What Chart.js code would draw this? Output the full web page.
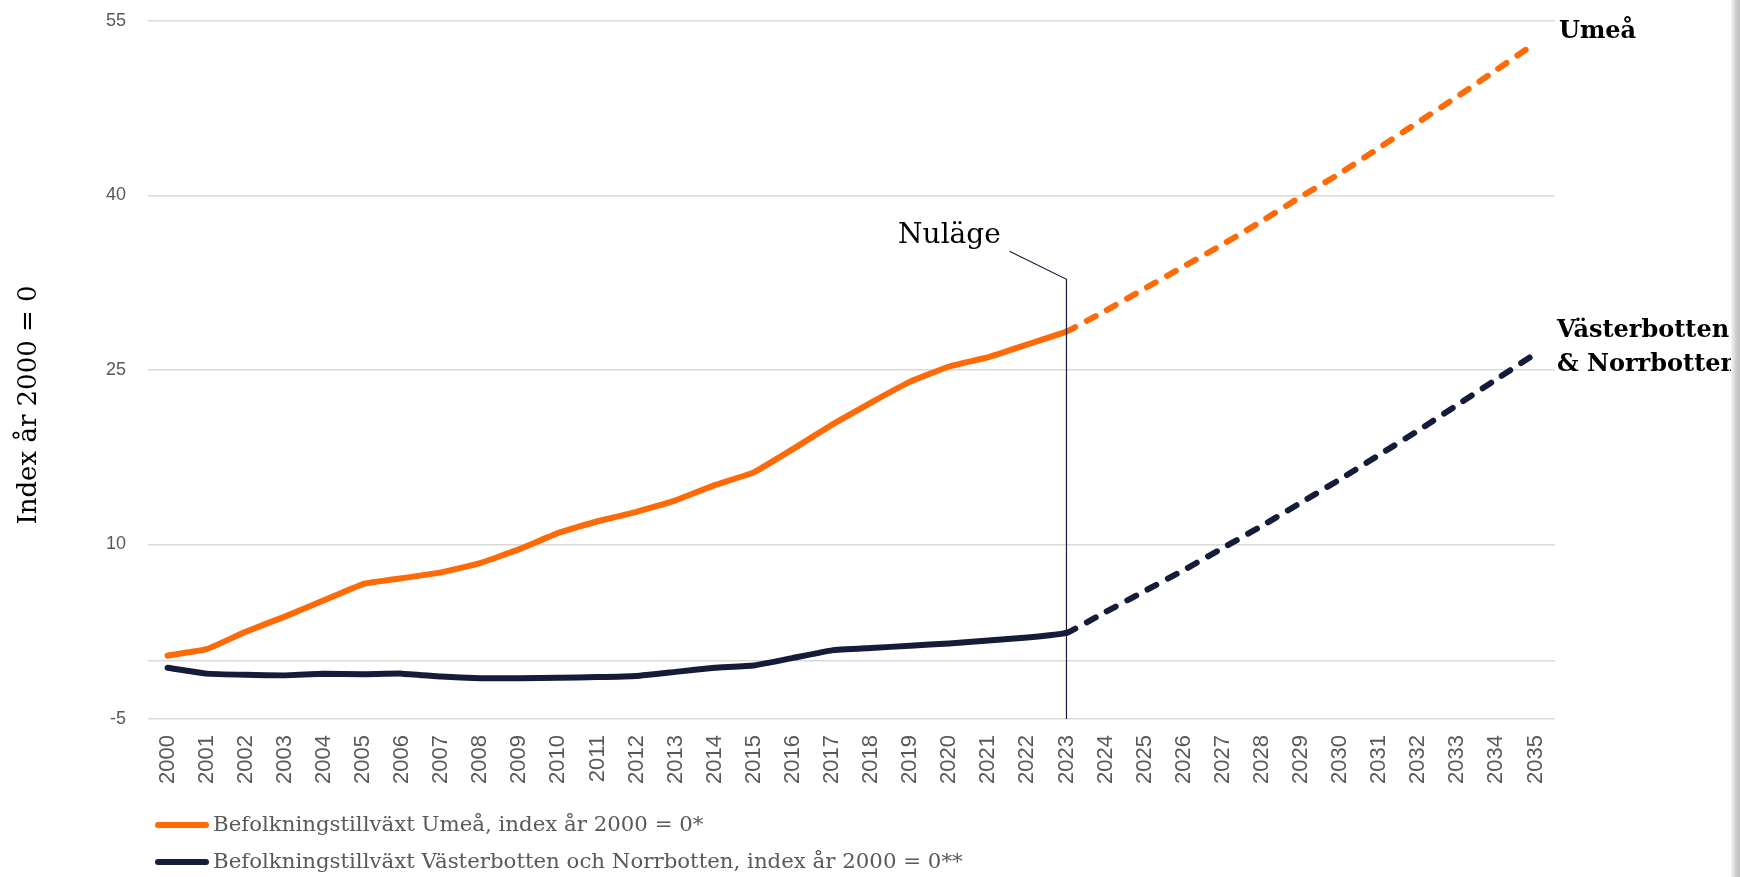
<!DOCTYPE html>
<html>
<head>
<meta charset="utf-8">
<script src="https://cdn.jsdelivr.net/npm/chart.js@4.4.1/dist/chart.umd.min.js"></script>
<style>
html,body{margin:0;padding:0;background:#fff;overflow:hidden}
#wrap{position:relative;width:1740px;height:877px}
#shade{position:absolute;left:1731px;top:0;width:9px;height:877px;background:linear-gradient(to right,#f6f6f6,#cfcfcf 55%,#bdbdbd)}
</style>
</head>
<body>
<div id="wrap"><canvas id="c" width="1740" height="877"></canvas><div id="shade"></div></div>
<script>
const years = ['2000','2001','2002','2003','2004','2005','2006','2007','2008','2009','2010','2011','2012','2013','2014','2015','2016','2017','2018','2019','2020','2021','2022','2023','2024','2025','2026','2027','2028','2029','2030','2031','2032','2033','2034','2035'];
const umea = [0.45,1.0,2.5,3.8,5.2,6.6,7.1,7.6,8.4,9.6,11.0,12.0,12.8,13.8,15.1,16.2,18.2,20.3,22.2,24.0,25.3,26.1,27.2,28.3,30.1,32.0,33.9,35.8,37.8,39.9,41.9,44.1,46.3,48.5,50.8,53.1];
const vbnb = [-0.6,-1.1,-1.2,-1.25,-1.1,-1.15,-1.1,-1.35,-1.5,-1.5,-1.45,-1.4,-1.3,-0.95,-0.6,-0.4,0.25,0.9,1.1,1.3,1.5,1.75,2.0,2.4,4.2,6.0,7.8,9.7,11.6,13.6,15.6,17.7,19.8,22.0,24.2,26.4];
const yTicks = [-5, 0, 10, 25, 40, 55];
const yTickLabels = ['-5', '', '10', '25', '40', '55'];
const seriesLabels = ['Befolkningstillväxt Umeå, index år 2000 = 0*', 'Befolkningstillväxt Västerbotten och Norrbotten, index år 2000 = 0**'];
const endLabelUmea = ['Umeå'];
const endLabelVbnb = ['Västerbotten', '& Norrbotten'];
const yTitle = 'Index år 2000 = 0';
const nowLabel = 'Nuläge';
const nowIndex = 23;

const ORANGE = '#ff6a07';
const NAVY = '#151b3b';
const GREY = '#595959';
const SERIF = "'DejaVu Serif', 'Liberation Serif', serif";
const SANS = "'Liberation Sans', Arial, sans-serif";

const annot = {
  id: 'annot',
  afterDraw(chart) {
    const {ctx, chartArea} = chart;
    const x = chart.scales.x, y = chart.scales.y;
    const nx = x.getPixelForValue(nowIndex);
    const topY = y.getPixelForValue(32.8);
    ctx.save();
    ctx.strokeStyle = NAVY; ctx.lineWidth = 1.2;
    ctx.beginPath();
    ctx.moveTo(nx, chartArea.bottom);
    ctx.lineTo(nx, topY);
    ctx.lineTo(nx - 57, topY - 28);
    ctx.stroke();
    ctx.fillStyle = '#000';
    ctx.font = '28px ' + SERIF;
    ctx.textAlign = 'center'; ctx.textBaseline = 'alphabetic';
    ctx.fillText(nowLabel, nx - 117, topY - 36);
    ctx.font = 'bold 24px ' + SERIF;
    ctx.textAlign = 'left'; ctx.textBaseline = 'middle';
    ctx.fillText(endLabelUmea[0], chartArea.right + 4, 32);
    ctx.fillText(endLabelVbnb[0], chartArea.right + 2, 331);
    ctx.fillText(endLabelVbnb[1], chartArea.right + 2, 365);
    ctx.save();
    ctx.translate(29, 405);
    ctx.rotate(-Math.PI / 2);
    ctx.font = '26px ' + SERIF;
    ctx.textAlign = 'center'; ctx.textBaseline = 'middle';
    ctx.fillText(yTitle, 0, 0);
    ctx.restore();
    const colors = [ORANGE, NAVY];
    const ly = [825, 862];
    for (let i = 0; i < 2; i++) {
      ctx.strokeStyle = colors[i]; ctx.lineWidth = 6; ctx.lineCap = 'round';
      ctx.beginPath(); ctx.moveTo(158, ly[i]); ctx.lineTo(206, ly[i]); ctx.stroke();
      ctx.fillStyle = GREY;
      ctx.font = '21.3px ' + SERIF;
      ctx.textAlign = 'left'; ctx.textBaseline = 'middle';
      ctx.fillText(seriesLabels[i], 213, ly[i]);
    }
    ctx.restore();
  }
};

const dash = ctx => ctx.p0DataIndex >= nowIndex ? [10, 13] : undefined;

new Chart(document.getElementById('c'), {
  type: 'line',
  data: {
    labels: years,
    datasets: [
      {label: seriesLabels[0], data: umea, borderColor: ORANGE, backgroundColor: ORANGE, borderWidth: 6, pointRadius: 0, tension: 0.1, borderCapStyle: 'round', borderJoinStyle: 'round', segment: {borderDash: dash}},
      {label: seriesLabels[1], data: vbnb, borderColor: NAVY, backgroundColor: NAVY, borderWidth: 6, pointRadius: 0, tension: 0.1, borderCapStyle: 'round', borderJoinStyle: 'round', segment: {borderDash: dash}}
    ]
  },
  options: {
    responsive: false,
    animation: false,
    devicePixelRatio: 1,
    layout: {padding: {top: 21, right: 185, bottom: 0, left: 0}},
    plugins: {legend: {display: false}, tooltip: {enabled: false}},
    scales: {
      x: {
        type: 'category',
        offset: true,
        grid: {display: false},
        border: {display: false},
        ticks: {font: {family: SANS, size: 22}, color: GREY, maxRotation: 90, minRotation: 90, autoSkip: false, padding: 8},
        afterFit: s => { s.height = 158; }
      },
      y: {
        min: -5, max: 55,
        afterBuildTicks: s => { s.ticks = yTicks.map(v => ({value: v})); },
        grid: {color: '#d9d9d9', lineWidth: 1.5, drawTicks: true, tickLength: 22, tickColor: 'rgba(0,0,0,0)'},
        border: {display: false},
        ticks: {font: {family: SANS, size: 18}, color: GREY, padding: 0, callback: v => yTickLabels[yTicks.indexOf(v)]},
        afterFit: s => { s.width = 148; }
      }
    }
  },
  plugins: [annot]
});
</script>
</body>
</html>
